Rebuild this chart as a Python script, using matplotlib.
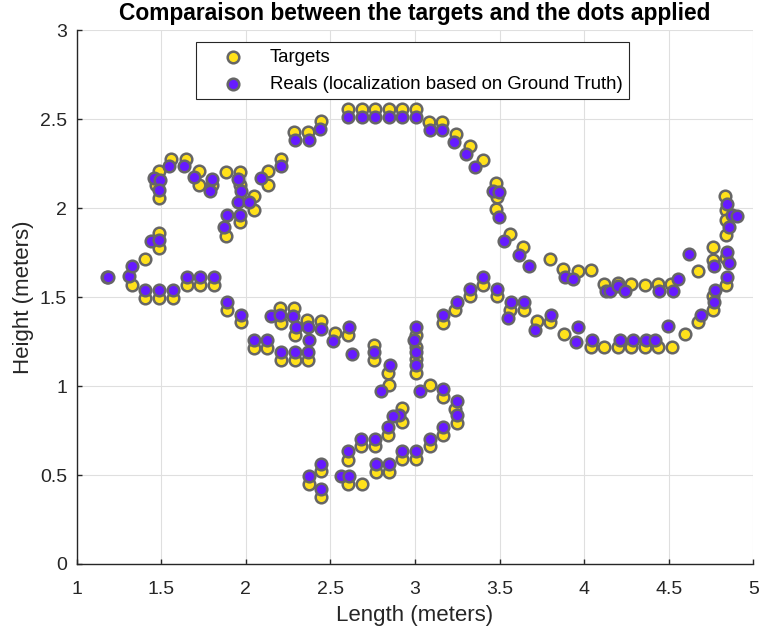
import numpy as np
import matplotlib
matplotlib.use('Agg')
import matplotlib.pyplot as plt

plt.rcParams['font.family'] = ['Liberation Sans', 'DejaVu Sans']

# Targets (yellow)
target_x = [
    1.18, 1.328, 1.406, 1.402, 1.485, 1.567, 1.651, 1.726, 1.812, 1.485, 1.485,
    1.485, 1.485, 1.47, 1.559, 1.645, 1.724, 1.724, 1.798,
    1.882, 1.965, 2.049, 2.049, 1.965, 1.882, 1.965,
    2.128, 2.128, 2.206, 2.282, 2.365, 2.445,
    2.602, 2.686, 2.765, 2.847, 2.926, 3.004,
    3.082, 3.161, 3.245, 3.324, 3.402,
    3.481, 3.481, 3.485, 3.563, 3.641, 3.798, 3.876, 3.961, 4.039,
    4.116, 4.2, 4.279, 4.361, 4.439, 4.514,
    4.675, 4.759, 4.759,
    4.834, 4.838, 4.838, 4.838, 4.838, 4.838,
    4.759, 4.759, 4.676, 4.598,
    4.039, 4.120, 4.2, 4.279, 4.358, 4.437, 4.520,
    3.882, 3.798, 3.720, 3.563, 3.645, 3.485, 3.324, 3.239, 3.165, 3.402,
    1.886, 1.971, 2.2, 2.049, 2.124,
    2.206, 2.285, 2.288, 2.363, 2.445, 2.524, 2.602,
    2.210, 2.288, 2.367, 2.759, 2.759, 2.841, 2.844,
    3.008, 3.008, 3.008, 3.008,
    3.086, 3.165, 3.239, 3.249, 3.167, 3.086, 3.008, 2.926, 2.847, 2.769,
    2.926, 2.926, 2.841, 2.763, 2.681, 2.606, 2.445, 2.371, 2.445, 2.602, 2.686,
]
target_y = [
    1.61, 1.569, 1.713, 1.496, 1.496, 1.496, 1.569, 1.569, 1.569, 1.860, 1.775,
    2.206, 2.056, 2.13, 2.275, 2.275, 2.206, 2.131, 2.131,
    2.200, 2.200, 2.065, 1.990, 1.919, 1.844, 2.13,
    2.206, 2.131, 2.277, 2.427, 2.427, 2.487,
    2.556, 2.556, 2.556, 2.556, 2.556, 2.556,
    2.483, 2.483, 2.416, 2.346, 2.271,
    2.140, 1.994, 2.06, 1.856, 1.781, 1.713, 1.657, 1.644, 1.649,
    1.575, 1.579, 1.575, 1.569, 1.575, 1.575,
    1.644, 1.781, 1.710,
    2.065, 1.99, 1.93, 1.850, 1.72, 1.569,
    1.503, 1.429, 1.357, 1.292,
    1.219, 1.219, 1.219, 1.219, 1.219, 1.219, 1.219,
    1.292, 1.357, 1.363, 1.429, 1.429, 1.503, 1.503, 1.429, 1.354, 1.569,
    1.429, 1.357, 1.438, 1.213, 1.213,
    1.354, 1.438, 1.288, 1.369, 1.363, 1.298, 1.288,
    1.144, 1.144, 1.144, 1.232, 1.144, 1.073, 1.007,
    1.288, 1.22, 1.15, 1.073,
    1.007, 0.938, 0.871, 0.792, 0.726, 0.661, 0.590, 0.590, 0.517, 0.517,
    0.876, 0.796, 0.726, 0.661, 0.661, 0.586, 0.520, 0.449, 0.376, 0.449, 0.449,
]

# Reals (purple), localization based on ground truth
real_x = [
    1.186, 1.308, 1.328, 1.402, 1.485, 1.567, 1.651, 1.726, 1.812, 1.441, 1.485,
    1.455, 1.494, 1.485, 1.547, 1.632, 1.696, 1.802, 1.788,
    1.955, 1.971, 1.955, 2.018, 1.886, 1.965, 1.873,
    2.092, 2.206, 2.288, 2.371, 2.439,
    2.602, 2.686, 2.765, 2.847, 2.926, 3.004,
    3.088, 3.161, 3.229, 3.304, 3.357,
    3.461, 3.494, 3.494, 3.524, 3.612, 3.671, 3.886, 3.932,
    4.132, 4.155, 4.2, 4.244, 4.441, 4.528, 4.553,
    4.618, 4.769,
    4.844, 4.876, 4.906, 4.857, 4.844, 4.857, 4.847,
    4.773, 4.765, 4.690, 4.498,
    4.049, 4.21, 4.288, 4.367, 4.416,
    3.961, 3.951, 3.804, 3.710,
    3.547, 3.569, 3.645, 3.485, 3.400, 3.324, 3.249, 3.165,
    1.886, 1.971, 2.147, 2.2, 2.049, 2.124,
    2.279, 2.294, 2.367, 2.371, 2.445, 2.514, 2.612, 2.629,
    2.210, 2.288, 2.367, 2.759, 2.796, 2.853,
    3.008, 2.994, 3.008, 3.008,
    3.028, 3.165, 3.249, 3.249, 3.167, 3.086, 3.008, 2.926, 2.847, 2.769,
    2.906, 2.867, 2.841, 2.763, 2.681, 2.606, 2.445, 2.371, 2.445, 2.563, 2.608,
]
real_y = [
    1.610, 1.620, 1.676, 1.541, 1.541, 1.541, 1.614, 1.614, 1.614, 1.812, 1.822,
    2.169, 2.160, 2.103, 2.234, 2.234, 2.174, 2.163, 2.093,
    2.163, 2.093, 2.031, 2.031, 1.962, 1.962, 1.893,
    2.169, 2.234, 2.384, 2.384, 2.444,
    2.511, 2.511, 2.511, 2.511, 2.511, 2.511,
    2.440, 2.440, 2.371, 2.303, 2.230,
    2.093, 2.088, 1.949, 1.812, 1.738, 1.672, 1.612, 1.601,
    1.531, 1.531, 1.560, 1.531, 1.531, 1.531, 1.601,
    1.742, 1.672,
    2.022, 1.962, 1.953, 1.891, 1.751, 1.691, 1.610,
    1.541, 1.470, 1.401, 1.335,
    1.260, 1.260, 1.260, 1.260, 1.260,
    1.331, 1.245, 1.401, 1.316,
    1.382, 1.470, 1.470, 1.545, 1.612, 1.545, 1.470, 1.401,
    1.472, 1.401, 1.391, 1.401, 1.260, 1.260,
    1.391, 1.331, 1.331, 1.260, 1.320, 1.251, 1.331, 1.181,
    1.191, 1.191, 1.191, 1.191, 0.970, 1.120,
    1.331, 1.260, 1.191, 1.120,
    0.970, 0.983, 0.913, 0.839, 0.770, 0.702, 0.633, 0.633, 0.562, 0.562,
    0.839, 0.833, 0.770, 0.702, 0.702, 0.633, 0.562, 0.492, 0.421, 0.492, 0.492,
]

x_ticks = [1, 1.5, 2, 2.5, 3, 3.5, 4, 4.5, 5]
y_ticks = [0, 0.5, 1, 1.5, 2, 2.5, 3]

yellow = '#FFE11A'
purple = '#661AFF'
edge = '#666666'
dark = '#262626'

fig = plt.figure(figsize=(7.65, 6.37), dpi=100)
ax = fig.add_axes([0.1003, 0.1146, 0.8844, 0.8383])

ax.scatter(target_x, target_y, s=70, c=yellow, edgecolors=edge, linewidths=1.8,
           label='Targets', zorder=3)
ax.scatter(real_x, real_y, s=70, c=purple, edgecolors=edge, linewidths=1.8,
           label='Reals (localization based on Ground Truth)', zorder=4)

ax.set_xlim(1, 5)
ax.set_ylim(0, 3)
ax.set_xticks(x_ticks)
ax.set_xticklabels([f'{t:g}' for t in x_ticks])
ax.set_yticks(y_ticks)
ax.set_yticklabels([f'{t:g}' for t in y_ticks])

ax.grid(True, color='#DFDFDF', linewidth=0.8, zorder=0)
ax.set_axisbelow(True)
for side in ['top', 'right']:
    ax.spines[side].set_visible(False)
for side in ['left', 'bottom']:
    ax.spines[side].set_color(dark)
    ax.spines[side].set_linewidth(1.0)
ax.tick_params(direction='in', length=3.6, width=1.0, colors=dark, labelsize=14)
ax.tick_params(axis='x', pad=12)
ax.tick_params(axis='y', pad=7)

ax.set_xlabel('Length (meters)', fontsize=16, color=dark, labelpad=5)
ax.set_ylabel('Height (meters)', fontsize=16, color=dark, labelpad=4.5)
ax.set_title('Comparaison between the targets and the dots applied',
             fontsize=16.4, fontweight='bold', pad=7)

leg = ax.legend(loc='upper left', bbox_to_anchor=(0.177, 0.977), borderaxespad=0,
                fontsize=13.4, frameon=True, fancybox=False, edgecolor='#262626',
                framealpha=1, handlelength=3.2, handletextpad=0.4, borderpad=0.35,
                labelspacing=0.53)
leg.get_frame().set_linewidth(0.8)

fig.savefig('out.png', dpi=100)
